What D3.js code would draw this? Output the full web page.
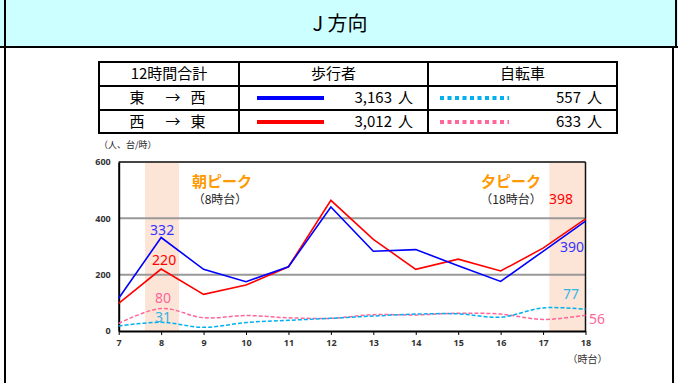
<!DOCTYPE html>
<html><head><meta charset="utf-8">
<script src="https://cdn.jsdelivr.net/npm/d3@7"></script>
<style>
html,body{margin:0;padding:0;background:#fff;}
svg{display:block;font-family:"Noto Sans CJK JP","Noto Sans",sans-serif;}
</style></head>
<body><svg id="c" width="678" height="383"></svg>
<script>
const hours = [7,8,9,10,11,12,13,14,15,16,17,18];
const pedEW = [116,332,219,175,228,440,283,289,232,176,283,390];
const pedWE = [98,220,130,163,228,464,325,219,255,213,294,398];
const bikeEW = [18,31,13,30,38,45,53,60,61,49,82,77];
const bikeWE = [27,80,47,55,47,45,58,57,63,60,41,56];
const yTicks = [0,200,400,600];
const title = "J 方向";
const tableHeader = ["12時間合計","歩行者","自転車"];
const rowLabels = [["東","→","西"],["西","→","東"]];
const pedTotals = ["3,163","3,012"];
const bikeTotals = ["557","633"];
const unit = "人";

const svg = d3.select("#c");

// title bar
svg.append("rect").attr("x",0).attr("y",0).attr("width",678).attr("height",47).attr("fill","#ccffff");
svg.append("line").attr("x1",0).attr("x2",678).attr("y1",47).attr("y2",47).attr("stroke","#000").attr("stroke-width",2);
svg.append("line").attr("x1",5).attr("x2",5).attr("y1",0).attr("y2",383).attr("stroke","#000").attr("stroke-width",2);
svg.append("line").attr("x1",673).attr("x2",673).attr("y1",47).attr("y2",383).attr("stroke","#000").attr("stroke-width",2);
svg.append("line").attr("x1",676).attr("x2",676).attr("y1",0).attr("y2",47).attr("stroke","#000").attr("stroke-width",2);
svg.append("text").attr("x",340).attr("y",31).attr("text-anchor","middle").attr("font-size",20).attr("fill","#000").text(title);

// table
const tx = [99,239,428,617], ty = [62,86,110,133];
const tg = svg.append("g");
tg.append("rect").attr("x",tx[0]).attr("y",ty[0]).attr("width",tx[3]-tx[0]).attr("height",ty[3]-ty[0]).attr("fill","none").attr("stroke","#000").attr("stroke-width",2);
[ty[1],ty[2]].forEach(v=>tg.append("line").attr("x1",tx[0]).attr("x2",tx[3]).attr("y1",v).attr("y2",v).attr("stroke","#000").attr("stroke-width",2));
[tx[1],tx[2]].forEach(v=>tg.append("line").attr("x1",v).attr("x2",v).attr("y1",ty[0]).attr("y2",ty[3]).attr("stroke","#000").attr("stroke-width",2));
const hc = [(tx[0]+tx[1])/2,(tx[1]+tx[2])/2,(tx[2]+tx[3])/2];
tableHeader.forEach((t,i)=>tg.append("text").attr("x",hc[i]).attr("y",79).attr("text-anchor","middle").attr("font-size",15).text(t));
const rowY = [103,127];
const pedColors = ["#0000ff","#ff0000"], bikeColors = ["#00b0f0","#ff6699"];
rowLabels.forEach((r,i)=>{
  [137,173,198].forEach((cx,j)=>tg.append("text").attr("x",cx).attr("y",rowY[i]).attr("text-anchor","middle").attr("font-size",15).text(r[j]));
  tg.append("line").attr("x1",257).attr("x2",324).attr("y1",rowY[i]-5).attr("y2",rowY[i]-5).attr("stroke",pedColors[i]).attr("stroke-width",4);
  tg.append("text").attr("x",392).attr("y",rowY[i]).attr("text-anchor","end").attr("font-size",15).text(pedTotals[i]);
  tg.append("text").attr("x",413).attr("y",rowY[i]).attr("text-anchor","end").attr("font-size",15).text(unit);
  tg.append("line").attr("x1",440).attr("x2",509).attr("y1",rowY[i]-5).attr("y2",rowY[i]-5).attr("stroke",bikeColors[i]).attr("stroke-width",4).attr("stroke-dasharray","4,3.5");
  tg.append("text").attr("x",581).attr("y",rowY[i]).attr("text-anchor","end").attr("font-size",15).text(bikeTotals[i]);
  tg.append("text").attr("x",602).attr("y",rowY[i]).attr("text-anchor","end").attr("font-size",15).text(unit);
});

svg.append("text").attr("x",99).attr("y",148).attr("font-size",9).attr("fill","#222").text("（人、台/時）");

// chart
const x = d3.scaleLinear().domain([7,18]).range([118.7,585.5]);
const y = d3.scaleLinear().domain([0,600]).range([331,162]);

// bands
[[7.62,8.42],[17.15,18]].forEach(b=>svg.append("rect").attr("x",x(b[0])).attr("y",y(600)).attr("width",x(b[1])-x(b[0])).attr("height",y(0)-y(600)).attr("fill","#fce4d6"));

// grid
[200,400].forEach(v=>svg.append("line").attr("x1",x(7)).attr("x2",x(18)).attr("y1",y(v)).attr("y2",y(v)).attr("stroke","#999").attr("stroke-width",2));
svg.append("line").attr("x1",x(7)).attr("x2",x(18)).attr("y1",y(600)).attr("y2",y(600)).attr("stroke","#444").attr("stroke-width",2);
svg.append("line").attr("x1",x(18)).attr("x2",x(18)).attr("y1",y(600)).attr("y2",y(0)).attr("stroke","#111").attr("stroke-width",1.5);

// axes
const xa = svg.append("g").attr("transform",`translate(0,${y(0)})`).call(d3.axisBottom(x).tickValues(hours).tickFormat(d3.format("d")).tickSize(4).tickSizeOuter(0));
const ya = svg.append("g").attr("transform",`translate(${x(7)},0)`).call(d3.axisLeft(y).tickValues(yTicks).tickSize(0).tickPadding(8).tickSizeOuter(0));
[xa,ya].forEach(a=>{a.select(".domain").attr("stroke","#000").attr("stroke-width",2);
  a.selectAll("text").attr("font-family","'Noto Sans','DejaVu Sans',sans-serif").attr("font-size",9).attr("font-weight","bold").attr("fill","#333");
  a.selectAll(".tick line").attr("stroke","#000");});
xa.selectAll("text").attr("dy","0.85em");
svg.append("text").attr("x",x(18)+2).attr("y",363).attr("text-anchor","middle").attr("font-size",10).attr("fill","#333").text("（時台）");

// lines
const straight = d3.line().x((d,i)=>x(hours[i])).y(d=>y(d));
const smooth = d3.line().x((d,i)=>x(hours[i])).y(d=>y(d)).curve(d3.curveCatmullRom.alpha(0.5));
svg.append("path").attr("d",smooth(bikeWE)).attr("fill","none").attr("stroke","#ff6699").attr("stroke-width",1.5).attr("stroke-dasharray","4,2");
svg.append("path").attr("d",smooth(bikeEW)).attr("fill","none").attr("stroke","#00b0f0").attr("stroke-width",1.5).attr("stroke-dasharray","4,2");
svg.append("path").attr("d",straight(pedWE)).attr("fill","none").attr("stroke","#ff0000").attr("stroke-width",1.6);
svg.append("path").attr("d",straight(pedEW)).attr("fill","none").attr("stroke","#0000ff").attr("stroke-width",1.6);

// annotations
svg.append("text").attr("x",222).attr("y",187).attr("text-anchor","middle").attr("font-size",15).attr("font-weight","bold").attr("fill","#ff9900").text("朝ピーク");
svg.append("text").attr("x",220).attr("y",204).attr("text-anchor","middle").attr("font-size",12).attr("fill","#222").text("（8時台）");
svg.append("text").attr("x",511).attr("y",187).attr("text-anchor","middle").attr("font-size",15).attr("font-weight","bold").attr("fill","#ff9900").text("夕ピーク");
svg.append("text").attr("x",511).attr("y",204).attr("text-anchor","middle").attr("font-size",12).attr("fill","#222").text("（18時台）");

// value labels
const lab = (t,cx,cy,c)=>svg.append("text").attr("x",cx).attr("y",cy).attr("dy","0.36em").attr("text-anchor","middle").attr("font-family","'Noto Sans','DejaVu Sans',sans-serif").attr("font-size",14).attr("fill",c).text(t);
lab(pedEW[1],x(8)+1,230,"#3333ff");
lab(pedWE[1],x(8)+3,260,"#ff0000");
lab(bikeWE[1],x(8)+2,298,"#ff6699");
lab(bikeEW[1],x(8)+2,317,"#33b4e6");
lab(pedWE[11],561,199,"#ff0000");
lab(pedEW[11],572,247,"#3333ff");
lab(bikeEW[11],571,294,"#33b4e6");
lab(bikeWE[11],597,319,"#ff6699");
</script></body></html>
